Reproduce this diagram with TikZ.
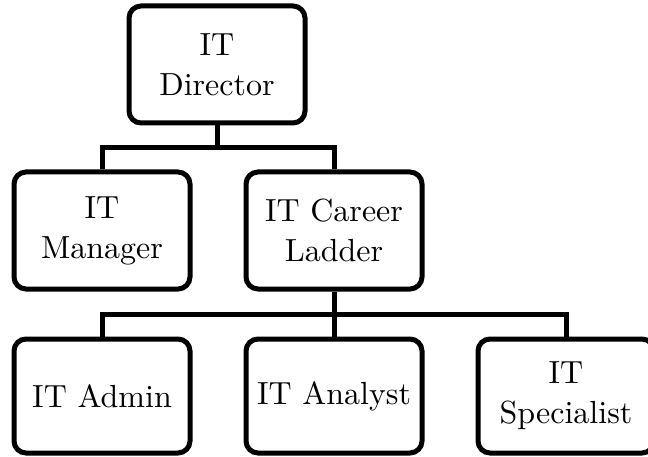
\documentclass[tikz,border=0pt]{standalone}
\usepackage{fontspec}
\setmainfont{lmroman10-regular}[Extension=.otf]
\begin{document}
\begin{tikzpicture}[x=1pt,y=-1pt,
  box/.style={draw=black, line width=5pt, rounded corners=12pt, fill=white,
    minimum width=176pt, minimum height=117pt, inner sep=0pt, align=center,
    font=\fontsize{32}{40}\selectfont},
  lowbox/.style={box, minimum height=114pt},
  conn/.style={draw=black, line width=5pt}]
\useasboundingbox (0,0) rectangle (648,457);
\clip (0,0) rectangle (648,457);
\node[box] (dir) at (217,64.5) {IT\\Director};
\node[box] (mgr) at (102,230.5) {IT\\Manager};
\node[box] (cl) at (334,230.5) {IT Career\\Ladder};
\node[lowbox] (adm) at (102,396) {IT Admin};
\node[lowbox] (ana) at (334,396) {IT Analyst};
\node[lowbox] (spe) at (566,396) {IT\\Specialist};
\coordinate (b1) at (217,148);
\coordinate (b2) at (334,314);
\draw[conn] (dir.south) -- (b1);
\draw[conn] (mgr.north) |- (b1) -| (cl.north);
\draw[conn] (cl.south) -- (b2);
\draw[conn] (adm.north) |- (b2) -| (spe.north);
\draw[conn] (b2) -- (ana.north);
\end{tikzpicture}
\end{document}
